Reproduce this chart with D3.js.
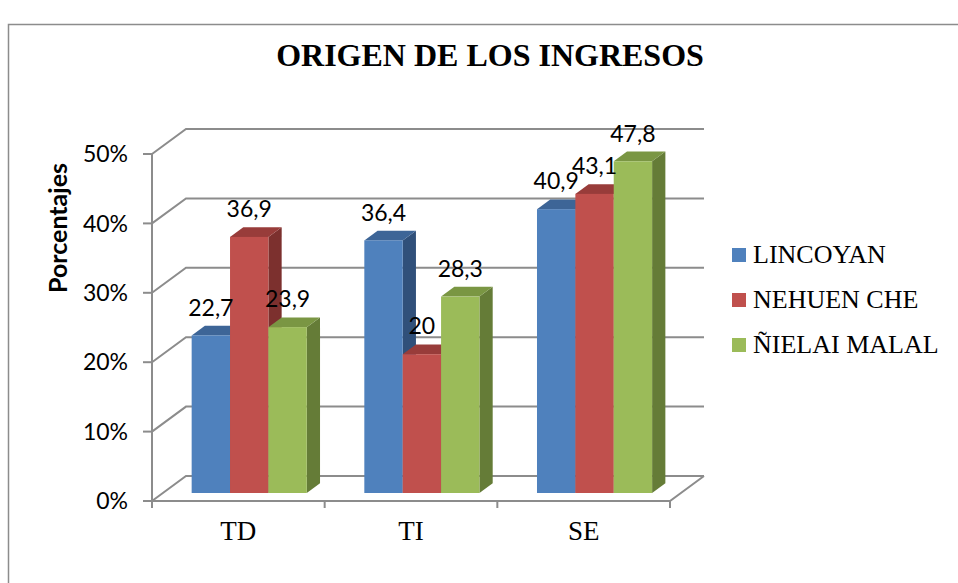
<!DOCTYPE html>
<html>
<head>
<meta charset="utf-8">
<script src="https://cdn.jsdelivr.net/npm/d3@7"></script>
<style>
  body { margin: 0; background: #fff; }
  svg { display: block; }
</style>
</head>
<body>
<svg class="chart" width="958" height="583"></svg>
<script>
var categories = ["TD", "TI", "SE"];
var series = ["LINCOYAN", "NEHUEN CHE", "ÑIELAI MALAL"];
var values = {
  "LINCOYAN":     [22.7, 36.4, 40.9],
  "NEHUEN CHE":   [36.9, 20, 43.1],
  "ÑIELAI MALAL": [23.9, 28.3, 47.8]
};
var yTicks = [0, 10, 20, 30, 40, 50];
var valueLabels = {
  "LINCOYAN":     ["22,7", "36,4", "40,9"],
  "NEHUEN CHE":   ["36,9", "20", "43,1"],
  "ÑIELAI MALAL": ["23,9", "28,3", "47,8"]
};

var colors = {
  "LINCOYAN":     { front: "#4f81bd", top: "#3d6597", side: "#30507a" },
  "NEHUEN CHE":   { front: "#c0504d", top: "#983c3a", side: "#7c302e" },
  "ÑIELAI MALAL": { front: "#9bbb59", top: "#7a9643", side: "#657c37" }
};

var svg = d3.select('.chart');
var sans = "Lato, 'Open Sans', sans-serif";
var serif = "'Liberation Serif', 'DejaVu Serif', serif";
var grid = "#8c8c8c";

// outer frame of the chart area
svg.append('rect').attr('x', 8.5).attr('y', 24.5).attr('width', 1000).attr('height', 1000)
  .attr('fill', 'none').attr('stroke', '#8c8c8c').attr('stroke-width', 1.5);

svg.append('text').attr('x', 490).attr('y', 66).attr('text-anchor', 'middle')
  .style('font-family', serif).style('font-weight', 'bold').style('font-size', '32px')
  .text("ORIGEN DE LOS INGRESOS");

// oblique 3d frame
var left = 152, right = 670;
var ddx = 34, ddy = -25;   // full depth offset
var y = d3.scaleLinear().domain([0, 50]).range([501, 154]);
var x = d3.scaleBand().domain(categories).range([left, right]);
var bw = x.bandwidth();
var barW = bw / (series.length + 1.5);
var xs = d3.scaleBand().domain(series).range([0, barW * series.length]);
var d0 = 0.32, d1 = 0.71;   // bar depth span

var gGrid = svg.append('g');
yTicks.forEach(function(t) {
  var yy = y(t);
  gGrid.append('path')
    .attr('d', "M" + left + "," + yy + "L" + (left + ddx) + "," + (yy + ddy) + "L" + (right + ddx) + "," + (yy + ddy))
    .attr('fill', 'none').attr('stroke', grid).attr('stroke-width', 2);
  gGrid.append('line').attr('x1', left - 9).attr('x2', left).attr('y1', yy).attr('y2', yy)
    .attr('stroke', grid).attr('stroke-width', 2);
  gGrid.append('text').attr('x', 128).attr('y', yy).attr('dy', '0.36em').attr('text-anchor', 'end')
    .style('font-family', sans).style('font-size', '23px').text(t + "%");
});
// floor front + right side + axis
gGrid.append('path')
  .attr('d', "M" + left + "," + y(50) + "L" + left + "," + y(0) + "L" + right + "," + y(0) + "L" + (right + ddx) + "," + (y(0) + ddy))
  .attr('fill', 'none').attr('stroke', grid).attr('stroke-width', 2);
d3.range(categories.length + 1).forEach(function(i) {
  var xx = left + i * bw;
  gGrid.append('line').attr('x1', xx).attr('x2', xx).attr('y1', y(0)).attr('y2', y(0) + 7)
    .attr('stroke', grid).attr('stroke-width', 2);
});
categories.forEach(function(c) {
  gGrid.append('text').attr('x', x(c) + bw / 2).attr('y', 540).attr('text-anchor', 'middle')
    .style('font-family', serif).style('font-size', '27px').text(c);
});

// axis title
svg.append('text').attr('transform', 'translate(67,228) rotate(-90)').attr('text-anchor', 'middle')
  .style('font-family', sans).style('font-weight', 'bold').style('font-size', '25px').text("Porcentajes");

// bars
var gBars = svg.append('g');
var gLab = svg.append('g');
var off = (bw - barW * series.length) / 2;
function pt(px, py) { return px + "," + py; }
categories.forEach(function(c, ci) {
  series.forEach(function(s) {
    var v = values[s][ci];
    var x0 = x(c) + off + xs(s) + ddx * d0;
    var x1 = x0 + barW;
    var yb = y(0) + ddy * d0;
    var yt = y(v) + ddy * d0;
    var sx = ddx * (d1 - d0), sy = ddy * (d1 - d0);
    var col = colors[s];
    gBars.append('path').attr('fill', col.side)
      .attr('d', "M" + pt(x1, yb) + "L" + pt(x1 + sx, yb + sy) + "L" + pt(x1 + sx, yt + sy) + "L" + pt(x1, yt) + "Z");
    gBars.append('path').attr('fill', col.top)
      .attr('d', "M" + pt(x0, yt) + "L" + pt(x1, yt) + "L" + pt(x1 + sx, yt + sy) + "L" + pt(x0 + sx, yt + sy) + "Z");
    gBars.append('rect').attr('x', x0).attr('y', yt).attr('width', barW).attr('height', yb - yt).attr('fill', col.front);
    gLab.append('text').attr('x', x0 + barW / 2).attr('y', yt + sy - 10).attr('text-anchor', 'middle')
      .style('font-family', sans).style('font-size', '23px').text(valueLabels[s][ci]);
  });
});

// legend
var legend = svg.append('g').attr('transform', 'translate(732,255)');
series.forEach(function(s, i) {
  legend.append('rect').attr('x', 0).attr('y', i * 45 - 7).attr('width', 14).attr('height', 14).attr('fill', colors[s].front);
  legend.append('text').attr('x', 21).attr('y', i * 45 + 8)
    .style('font-family', serif).style('font-size', '26px').text(s);
});
</script>
</body>
</html>
